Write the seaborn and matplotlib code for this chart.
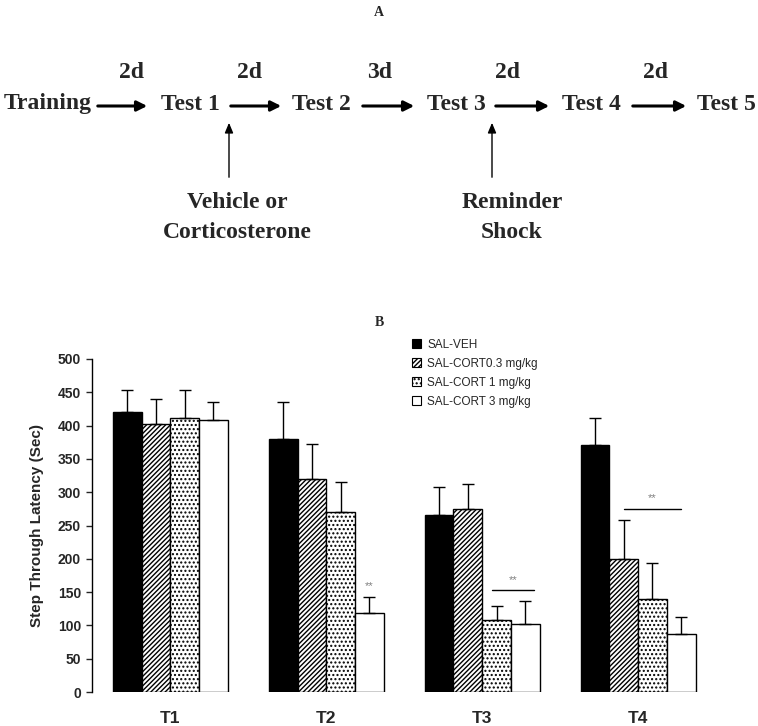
import pandas as pd
import numpy as np
import matplotlib
matplotlib.use('Agg')
import matplotlib.pyplot as plt
import seaborn as sns

# --- data ---
sessions = ['T1', 'T2', 'T3', 'T4']
groups = ['SAL-VEH', 'SAL-CORT0.3 mg/kg', 'SAL-CORT 1 mg/kg', 'SAL-CORT 3 mg/kg']
veh = [421, 380, 266, 371]
cort_03 = [403, 320, 275, 200]
cort_1 = [412, 271, 108, 140]
cort_3 = [408, 118, 102, 87]
err_veh = [33, 55, 42, 40]
err_03 = [37, 52, 37, 58]
err_1 = [41, 44, 21, 54]
err_3 = [27, 25, 35, 26]

# timeline in panel A
steps = ['Training', 'Test 1', 'Test 2', 'Test 3', 'Test 4', 'Test 5']
gaps = ['2d', '2d', '3d', '2d', '2d']

W, H = 758, 726
SERIF = ['Liberation Serif', 'DejaVu Serif']
SANS = ['Liberation Sans', 'DejaVu Sans']

sns.set_style('white')
plt.rcParams['font.family'] = SANS
plt.rcParams['hatch.linewidth'] = 1.0

fig = plt.figure(figsize=(W / 100, H / 100), dpi=100)

# --- Panel A: drawn in pixel coordinates on an invisible axes ---
axa = fig.add_axes([0, 0, 1, 1])
axa.set_xlim(0, W)
axa.set_ylim(H, 0)
axa.axis('off')

axa.text(379, 12, 'A', ha='center', va='center', family=SERIF, weight='bold', fontsize=10)
axa.text(379, 323, 'B', ha='center', va='center', family=SERIF, weight='bold', fontsize=10)

step_x = [48, 190, 321, 456, 591, 726]
gap_x = [132, 250, 380, 507, 655]
arrows = [(95, 150), (228, 284), (360, 417), (493, 552), (630, 689)]
row_y = 104
for name, x in zip(steps, step_x):
    axa.text(x, row_y, name, ha='center', va='center', family=SERIF, weight='bold', fontsize=17)
for g, x in zip(gaps, gap_x):
    axa.text(x, 72, g, ha='center', va='center', family=SERIF, weight='bold', fontsize=17)
for x0, x1 in arrows:
    axa.annotate('', xy=(x1, row_y + 2), xytext=(x0, row_y + 2),
                 arrowprops=dict(arrowstyle='-|>,head_length=0.6,head_width=0.3', lw=2.2, color='black'))

for x, lines in [(229, ['Vehicle or', 'Corticosterone']), (492, ['Reminder', 'Shock'])]:
    axa.annotate('', xy=(x, 120), xytext=(x, 180),
                 arrowprops=dict(arrowstyle='-|>,head_length=0.6,head_width=0.25', lw=1.0, color='black'))
    tx = 237 if x < 300 else 512
    axa.text(tx, 203, lines[0], ha='center', va='center', family=SERIF, weight='bold', fontsize=17)
    axa.text(tx, 233, lines[1], ha='center', va='center', family=SERIF, weight='bold', fontsize=17)

# --- Panel B: grouped bar chart ---
df = pd.DataFrame({
    'session': sessions * 4,
    'group': np.repeat(groups, len(sessions)),
    'latency': veh + cort_03 + cort_1 + cort_3,
})
errs = [err_veh, err_03, err_1, err_3]

ax = fig.add_axes([92 / W, 34 / H, 624 / W, 333 / H])
sns.barplot(data=df, x='session', y='latency', hue='group', order=sessions, hue_order=groups,
            palette=['black', 'white', 'white', 'white'], edgecolor='black', linewidth=1.0,
            width=0.737, errorbar=None, legend=False, ax=ax)

bar_conts = list(ax.containers)
hatches = [None, '///////', '....', None]
for cont, hatch, err in zip(bar_conts, hatches, errs):
    xs, tops = [], []
    for p in cont.patches:
        if hatch:
            p.set_hatch(hatch)
        xs.append(p.get_x() + p.get_width() / 2)
        tops.append(p.get_height())
    ax.errorbar(xs, tops, yerr=[np.zeros(len(err)), err], fmt='none', ecolor='black',
                elinewidth=1.0, capsize=4, capthick=1.0, zorder=3)

# significance marks
c_hatch = bar_conts[1].patches
c_dots = bar_conts[2].patches
c_white = bar_conts[3].patches
bw = c_white[0].get_width()
# T2
p = c_white[1]
ax.text(p.get_x() + bw / 2, cort_3[1] + err_3[1] + 8, '**', ha='center', va='bottom', color='gray', fontsize=8)
# T3
x0 = c_dots[2].get_x() + 0.35 * bw
x1 = c_white[2].get_x() + 0.8 * bw
ax.plot([x0, x1], [153, 153], color='black', lw=1.0)
ax.text((x0 + x1) / 2, 160, '**', ha='center', va='bottom', color='gray', fontsize=8)
# T4
x0 = c_hatch[3].get_x() + 0.5 * bw
x1 = c_white[3].get_x() + 0.5 * bw
ax.plot([x0, x1], [275, 275], color='black', lw=1.0)
ax.text((x0 + x1) / 2, 283, '**', ha='center', va='bottom', color='gray', fontsize=8)

ax.set_ylim(0, 500)
ax.set_xlim(-0.503, 3.5)
ax.set_yticks(range(0, 501, 50))
ax.set_xlabel('')
ax.set_ylabel('Step Through Latency (Sec)', fontsize=11, weight='bold', labelpad=10)
for lab in ax.get_yticklabels():
    lab.set_fontweight('bold')
    lab.set_fontsize(10)
ax.tick_params(axis='y', left=True, length=4, width=1, pad=4)
ax.tick_params(axis='x', bottom=False, length=0, pad=14)
for lab in ax.get_xticklabels():
    lab.set_fontweight('bold')
    lab.set_fontsize(12.5)
sns.despine(ax=ax, top=True, right=True, bottom=True)
ax.spines['left'].set_color('black')
ax.spines['left'].set_linewidth(1.0)

handles = [cont.patches[0] for cont in bar_conts]
leg = ax.legend(handles, groups, loc='upper left', bbox_to_anchor=((407 - 92) / 624, 1 + (367 - 342) / 333),
                frameon=False, fontsize=8.5, handlelength=0.8, handleheight=0.8,
                handletextpad=0.5, labelspacing=0.6, borderaxespad=0)
for h in leg.legend_handles:
    h.set_linewidth(0.8)

fig.savefig('out.png', dpi=100)
